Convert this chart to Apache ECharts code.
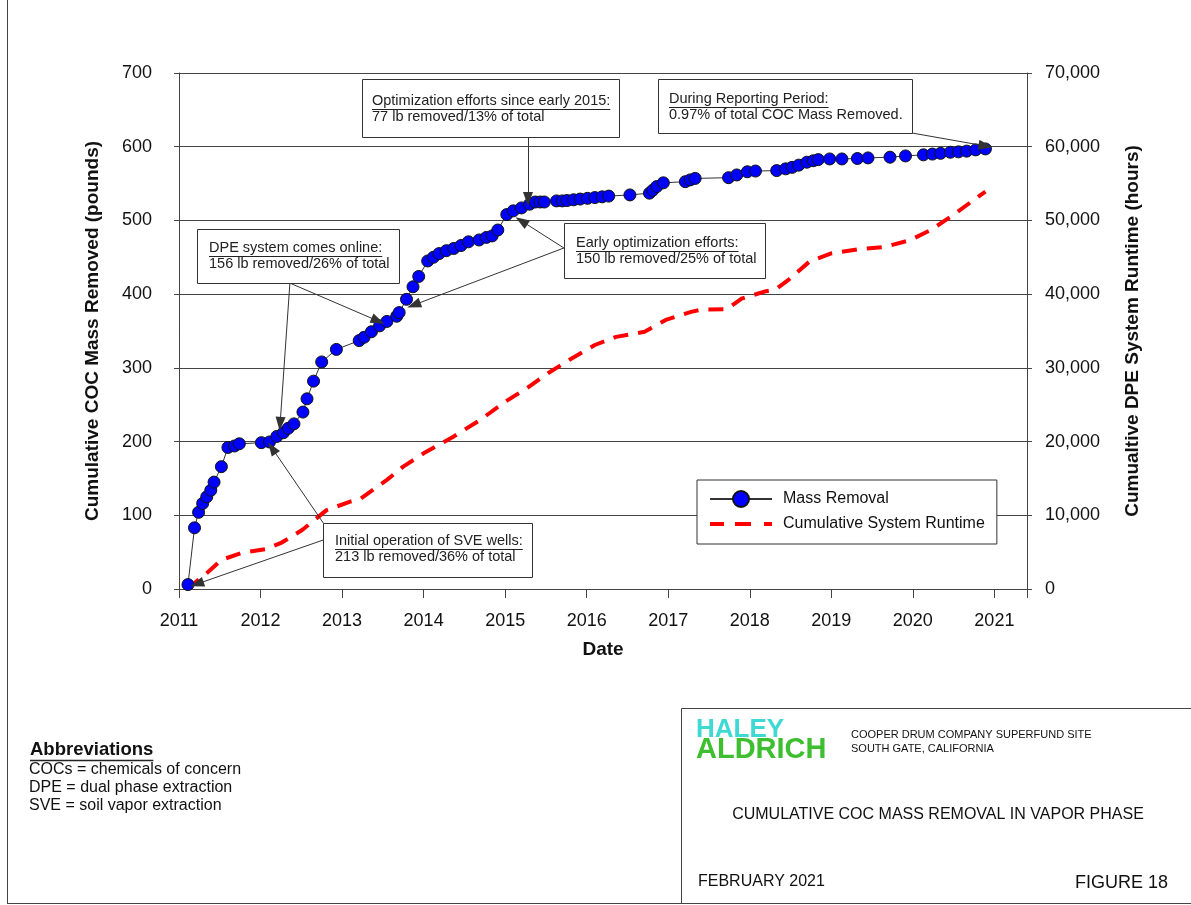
<!DOCTYPE html>
<html>
<head>
<meta charset="utf-8">
<script src="https://cdn.jsdelivr.net/npm/echarts@6/dist/echarts.min.js"></script>
<style>
  html, body { margin: 0; padding: 0; background: #fff; }
  #main { width: 1191px; height: 905px; }
</style>
</head>
<body>
<div id="main"></div>
<script>
// cumulative COC mass removed (decimal year, pounds)
var massDates = [2011.11, 2011.19, 2011.24, 2011.29, 2011.34, 2011.39, 2011.43, 2011.52, 2011.60, 2011.68,
  2011.74, 2012.01, 2012.11, 2012.20, 2012.28, 2012.34, 2012.41, 2012.52, 2012.57, 2012.65,
  2012.75, 2012.93, 2013.21, 2013.27, 2013.36, 2013.46, 2013.55, 2013.67, 2013.70, 2013.79,
  2013.87, 2013.94, 2014.05, 2014.12, 2014.19, 2014.28, 2014.37, 2014.46, 2014.55, 2014.68,
  2014.77, 2014.84, 2014.91, 2015.02, 2015.10, 2015.20, 2015.30, 2015.37, 2015.43, 2015.48,
  2015.63, 2015.70, 2015.76, 2015.84, 2015.92, 2016.01, 2016.10, 2016.19, 2016.27, 2016.53,
  2016.77, 2016.81, 2016.86, 2016.94, 2017.21, 2017.27, 2017.33, 2017.74, 2017.84, 2017.97,
  2018.07, 2018.33, 2018.44, 2018.52, 2018.60, 2018.70, 2018.78, 2018.84, 2018.98, 2019.13,
  2019.32, 2019.45, 2019.72, 2019.91, 2020.13, 2020.24, 2020.34, 2020.46, 2020.56, 2020.66,
  2020.77, 2020.89];
var massLb = [6, 83, 104, 116, 125, 134, 145, 166, 192, 194,
  197, 198.5, 199.5, 207, 212, 218, 224, 240, 258, 282,
  308, 325, 337, 341.5, 349, 357, 363, 370, 375, 393,
  410, 424, 445, 450, 455, 459, 462, 466, 471, 473.5,
  477, 479, 487, 508, 513, 517, 522, 525, 525, 525,
  526.5, 526.5, 527, 528, 529, 530, 531, 532, 533, 534.6,
  537, 541, 546, 551, 552.6, 555, 557, 558, 561.7, 566,
  567, 567.6, 570, 572, 575, 579, 581, 582.5, 583.4, 583.4,
  584, 584.8, 585.8, 587.5, 589, 590, 591, 592.5, 593, 594,
  595.7, 597];

// cumulative DPE system runtime (decimal year, hours)
var runtimeDates = [2011.10, 2011.36, 2011.52, 2011.77, 2012.06, 2012.26, 2012.51, 2012.81, 2013.10, 2013.22,
  2013.55, 2013.75, 2014.00, 2014.37, 2014.69, 2015.00, 2015.26, 2015.53, 2015.79, 2016.10,
  2016.36, 2016.71, 2016.97, 2017.28, 2017.41, 2017.72, 2017.90, 2018.20, 2018.31, 2018.47,
  2018.73, 2018.99, 2019.34, 2019.65, 2019.96, 2020.22, 2020.49, 2020.75, 2020.89];
var runtimeHours = [0, 2350, 3950, 4900, 5400, 6300, 8000, 10700, 11850, 12200,
  14800, 16600, 18400, 20700, 22900, 25400, 27200, 29300, 31100, 33100,
  34200, 34900, 36500, 37600, 37900, 37950, 39400, 40400, 40600, 41900,
  44400, 45500, 46100, 46400, 47300, 48700, 50700, 52800, 53900];

var yearTicks = [2011, 2012, 2013, 2014, 2015, 2016, 2017, 2018, 2019, 2020, 2021];

// callout arrows: [start, end] in (year, pounds)
var arrows = [
  [[2015.28, 612], [2015.28, 529]],
  [[2019.99, 618.6], [2020.89, 601]],
  [[2012.36, 415], [2012.24, 224]],
  [[2012.36, 415], [2013.44, 363.6]],
  [[2015.72, 462.6], [2015.20, 499.3]],
  [[2015.72, 462.6], [2013.88, 385.3]],
  [[2012.77, 89.5], [2012.14, 191.3]],
  [[2012.77, 66.5], [2011.22, 6.8]]
];

var FONT = '"Liberation Sans", Arial, sans-serif';

function zip(a, b) {
  return a.map(function (v, i) { return [v, b[i]]; });
}

function textWidth(t, size, bold) {
  if (!textWidth.ctx) textWidth.ctx = document.createElement('canvas').getContext('2d');
  textWidth.ctx.font = (bold ? 'bold ' : '') + size + 'px ' + FONT;
  return textWidth.ctx.measureText(t).width;
}

function txt(x, y, s, size, opts) {
  opts = opts || {};
  return {
    type: 'text', x: x, y: y, z: 100,
    style: {
      text: s,
      font: (opts.bold ? 'bold ' : '') + size + 'px ' + FONT,
      fill: opts.color || '#222',
      align: opts.align || 'left',
      verticalAlign: 'middle'
    }
  };
}

function hline(x1, x2, y, w) {
  return { type: 'line', z: 100, shape: { x1: x1, y1: y, x2: x2, y2: y }, style: { stroke: '#222', lineWidth: w || 1 } };
}

// boxed note, first line underlined
function noteBox(x, y, w, h, tx, ty, line1, line2) {
  var fs = 14.5;
  return [
    { type: 'rect', z: 90, shape: { x: x + 0.5, y: y + 0.5, width: w, height: h }, style: { fill: '#fff', stroke: '#333', lineWidth: 1 } },
    txt(tx, ty, line1, fs),
    hline(tx, tx + textWidth(line1, fs), ty + 8.5),
    txt(tx, ty + 15.5, line2, fs)
  ];
}

var graphics = [].concat(
  noteBox(362, 79, 257, 58, 372, 101, 'Optimization efforts since early 2015:', '77 lb removed/13% of total'),
  noteBox(658, 79, 254, 54, 669, 99, 'During Reporting Period:', '0.97% of total COC Mass Removed.'),
  noteBox(197, 229, 202, 54, 209, 248, 'DPE system comes online:', '156 lb removed/26% of total'),
  noteBox(564, 223, 201, 55, 576, 243, 'Early optimization efforts:', '150 lb removed/25% of total'),
  noteBox(323, 523, 209, 54, 335, 541, 'Initial operation of SVE wells:', '213 lb removed/36% of total')
);

// page frame and title block
graphics.push(
  { type: 'line', z: 100, shape: { x1: 7.5, y1: 0, x2: 7.5, y2: 904 }, style: { stroke: '#444', lineWidth: 1 } },
  { type: 'line', z: 100, shape: { x1: 7, y1: 903.5, x2: 1191, y2: 903.5 }, style: { stroke: '#444', lineWidth: 1 } },
  { type: 'rect', z: 100, shape: { x: 681.5, y: 708.5, width: 520, height: 195 }, style: { fill: 'none', stroke: '#444', lineWidth: 1 } }
);

// abbreviations
graphics.push(
  txt(30, 750, 'Abbreviations', 18.5, { bold: true, color: '#111' }),
  hline(30, 30 + textWidth('Abbreviations', 18.5, true), 760.5, 1.5),
  txt(29, 770, 'COCs = chemicals of concern', 16, { color: '#111' }),
  txt(29, 788, 'DPE = dual phase extraction', 16, { color: '#111' }),
  txt(29, 806, 'SVE = soil vapor extraction', 16, { color: '#111' })
);

// title block text
graphics.push(
  txt(696, 730, 'HALEY', 26, { bold: true, color: '#3fd9d3' }),
  txt(696, 750, 'ALDRICH', 29, { bold: true, color: '#3dbf2f' }),
  txt(851, 735, 'COOPER DRUM COMPANY SUPERFUND SITE', 11, { color: '#111' }),
  txt(851, 749, 'SOUTH GATE, CALIFORNIA', 11, { color: '#111' }),
  txt(938, 815, 'CUMULATIVE COC MASS REMOVAL IN VAPOR PHASE', 16, { align: 'center', color: '#111' }),
  txt(698, 882, 'FEBRUARY 2021', 16, { color: '#111' }),
  txt(1168, 883, 'FIGURE 18', 18, { align: 'right', color: '#111' })
);

var chart = echarts.init(document.getElementById('main'));

var option = {
  animation: false,
  backgroundColor: '#fff',
  textStyle: { fontFamily: FONT },
  grid: { left: 179, right: 164, top: 73, bottom: 316 },
  legend: {
    orient: 'vertical',
    left: 697,
    top: 480,
    padding: [10, 12, 10, 12],
    itemGap: 6,
    itemWidth: 62,
    itemHeight: 20,
    backgroundColor: '#fff',
    borderColor: '#333',
    borderWidth: 1,
    borderRadius: 0,
    textStyle: { fontSize: 16, color: '#111', fontFamily: FONT, padding: [0, 0, 0, 6] },
    data: [
      { name: 'Mass Removal' },
      {
        name: 'Cumulative System Runtime',
        // three dashes plus an invisible sliver to keep the icon height
        icon: 'path://M0,0h0.01v20h-0.01z M0,8h14v4h-14z M25,8h16v4h-16z M54,8h8v4h-8z',
        itemStyle: { color: '#ff0000' }
      }
    ]
  },
  xAxis: {
    type: 'value',
    min: 2011,
    max: 2021.4,
    interval: 1,
    name: 'Date',
    nameLocation: 'middle',
    nameGap: 51,
    nameTextStyle: { fontSize: 19, fontWeight: 'bold', color: '#111' },
    axisLine: { lineStyle: { color: '#444' } },
    axisTick: { show: true, length: 9, lineStyle: { color: '#444' } },
    axisLabel: {
      fontSize: 18, color: '#111', margin: 23,
      formatter: function (v) { return yearTicks.indexOf(v) >= 0 ? String(v) : ''; }
    },
    splitLine: { show: false }
  },
  yAxis: [
    {
      type: 'value',
      min: 0, max: 700, interval: 100,
      name: 'Cumulative COC Mass Removed (pounds)',
      nameLocation: 'middle',
      nameRotate: 90,
      nameGap: 77,
      nameTextStyle: { fontSize: 19, fontWeight: 'bold', color: '#111' },
      axisLine: { show: true, lineStyle: { color: '#444' } },
      axisTick: { show: true, length: 5, lineStyle: { color: '#444' } },
      axisLabel: { fontSize: 18, color: '#111', margin: 27 },
      splitLine: { show: true, lineStyle: { color: '#444', width: 1 } }
    },
    {
      type: 'value',
      min: 0, max: 70000, interval: 10000,
      name: 'Cumualtive DPE System Runtime (hours)',
      nameLocation: 'middle',
      nameRotate: 90,
      nameGap: 96,
      nameTextStyle: { fontSize: 19, fontWeight: 'bold', color: '#111' },
      axisLine: { show: true, lineStyle: { color: '#444' } },
      axisTick: { show: true, length: 5, lineStyle: { color: '#444' } },
      axisLabel: {
        fontSize: 18, color: '#111', margin: 18,
        formatter: function (v) { return v.toLocaleString('en-US'); }
      },
      splitLine: { show: false }
    }
  ],
  series: [
    {
      name: 'Cumulative System Runtime',
      type: 'line',
      yAxisIndex: 1,
      data: zip(runtimeDates, runtimeHours),
      symbol: 'none',
      lineStyle: { color: '#ff0000', width: 4, type: [15, 10] },
      itemStyle: { color: '#ff0000' },
      z: 2
    },
    {
      name: 'Mass Removal',
      type: 'line',
      yAxisIndex: 0,
      data: zip(massDates, massLb),
      symbol: 'circle',
      symbolSize: 12,
      lineStyle: { color: '#333', width: 1 },
      itemStyle: { color: '#0000ff', borderColor: '#111', borderWidth: 1 },
      z: 3,
      markLine: {
        silent: true,
        symbol: ['none', 'triangle'],
        symbolSize: [10, 14],
        label: { show: false },
        lineStyle: { color: '#333', width: 1, type: 'solid' },
        itemStyle: { color: '#111' },
        emphasis: { disabled: true },
        data: arrows.map(function (a) {
          return [{ coord: a[0] }, { coord: a[1] }];
        })
      }
    }
  ],
  graphic: graphics
};

chart.setOption(option);
</script>
</body>
</html>
